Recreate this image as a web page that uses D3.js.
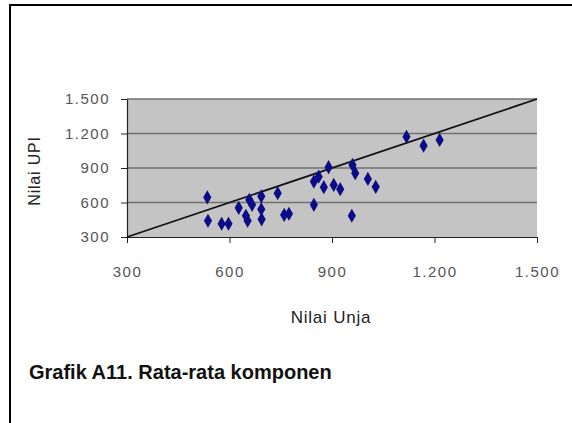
<!DOCTYPE html>
<html>
<head>
<meta charset="utf-8">
<script src="https://cdn.jsdelivr.net/npm/d3@7"></script>
<style>
  body { margin: 0; background: #fff; }
  text { font-family: "Liberation Sans", Arial, sans-serif; }
</style>
</head>
<body>
<div id="chart"></div>
<script>
var svgWidth = 572;
var svgHeight = 423;

// data
var unja = [535, 537, 577, 597, 627, 648, 653, 658, 666, 693, 693, 694, 741, 760, 774,
            847, 861, 890, 876, 905, 924, 847, 958, 960, 968, 1005, 1028, 1118, 1168, 1215];
var upi  = [645, 441, 415, 415, 554, 485, 441, 623, 580, 654, 541, 454, 681, 493, 502,
            782, 825, 907, 733, 753, 716, 580, 485, 927, 855, 805, 736, 1172, 1094, 1144];
var tickValues = [300, 600, 900, 1200, 1500];
var tickLabels = ["300", "600", "900", "1.200", "1.500"];
var refLine = [[300, 300], [1500, 1500]];

var margin = {top: 99, left: 127, right: 35, bottom: 186};
var width = 537 - margin.left;
var height = 237 - margin.top;

var svg = d3.select("#chart")
    .append("svg")
    .attr("width", svgWidth)
    .attr("height", svgHeight);

// frame
svg.append("rect")
    .attr("x", 10).attr("y", 5)
    .attr("width", 600).attr("height", 500)
    .attr("fill", "none")
    .attr("stroke", "#000")
    .attr("stroke-width", 2);

var chartGroup = svg.append("g")
    .attr("transform", `translate(${margin.left},${margin.top})`);

var xScale = d3.scaleLinear().domain([300, 1500]).range([0, width]);
var yScale = d3.scaleLinear().domain([300, 1500]).range([height, 0]);

// plot background
chartGroup.append("rect")
    .attr("width", width)
    .attr("height", height)
    .attr("fill", "#c4c4c4");

// gridlines
chartGroup.selectAll(".grid")
    .data(tickValues.slice(1))
    .enter()
    .append("line")
    .attr("x1", 0).attr("x2", width)
    .attr("y1", d => yScale(d)).attr("y2", d => yScale(d))
    .attr("stroke", "#707070")
    .attr("stroke-width", 1.5);

var fmt = d => tickLabels[tickValues.indexOf(d)];

var bottomAxis = d3.axisBottom(xScale).tickValues(tickValues).tickFormat(fmt)
    .tickSizeInner(6).tickSizeOuter(0).tickPadding(34);
var leftAxis = d3.axisLeft(yScale).tickValues(tickValues).tickFormat(fmt)
    .tickSizeInner(6).tickSizeOuter(0).tickPadding(11);

var xAxis = chartGroup.append("g")
    .attr("transform", `translate(0,${height})`)
    .call(bottomAxis);
var yAxis = chartGroup.append("g")
    .call(leftAxis);

[xAxis, yAxis].forEach(function(ax) {
    ax.select(".domain").attr("stroke", "#222").attr("stroke-width", 1.2);
    ax.selectAll(".tick line").attr("stroke", "#222");
    ax.selectAll("text")
        .attr("fill", "#555")
        .style("font-size", "15px")
        .style("letter-spacing", "1.5px")
        .style("font-family", "'Liberation Sans', Arial, sans-serif");
});
xAxis.selectAll("text").attr("dy", "0");

// reference line
chartGroup.append("path")
    .datum(refLine)
    .attr("d", d3.line().x(d => xScale(d[0])).y(d => yScale(d[1])))
    .attr("stroke", "#111")
    .attr("stroke-width", 1.8)
    .attr("fill", "none");

// points
chartGroup.selectAll(".pt")
    .data(unja.map((d, i) => [d, upi[i]]))
    .enter()
    .append("path")
    .attr("class", "pt")
    .attr("transform", d => `translate(${xScale(d[0])},${yScale(d[1])})`)
    .attr("d", d3.symbol().type(d3.symbolDiamond).size(58))
    .attr("fill", "#0c0c88");

// axis titles
svg.append("text")
    .attr("x", 331)
    .attr("y", 323)
    .attr("text-anchor", "middle")
    .attr("fill", "#222")
    .style("font-size", "17px")
    .style("letter-spacing", "0.8px")
    .text("Nilai Unja");

svg.append("text")
    .attr("transform", "rotate(-90)")
    .attr("x", -171)
    .attr("y", 40)
    .attr("text-anchor", "middle")
    .attr("fill", "#222")
    .style("font-size", "16px")
    .style("letter-spacing", "0.8px")
    .text("Nilai UPI");

// caption
svg.append("text")
    .attr("x", 29)
    .attr("y", 379)
    .attr("fill", "#111")
    .style("font-size", "20px")
    .style("font-weight", "bold")
    .text("Grafik A11. Rata-rata komponen");
</script>
</body>
</html>
